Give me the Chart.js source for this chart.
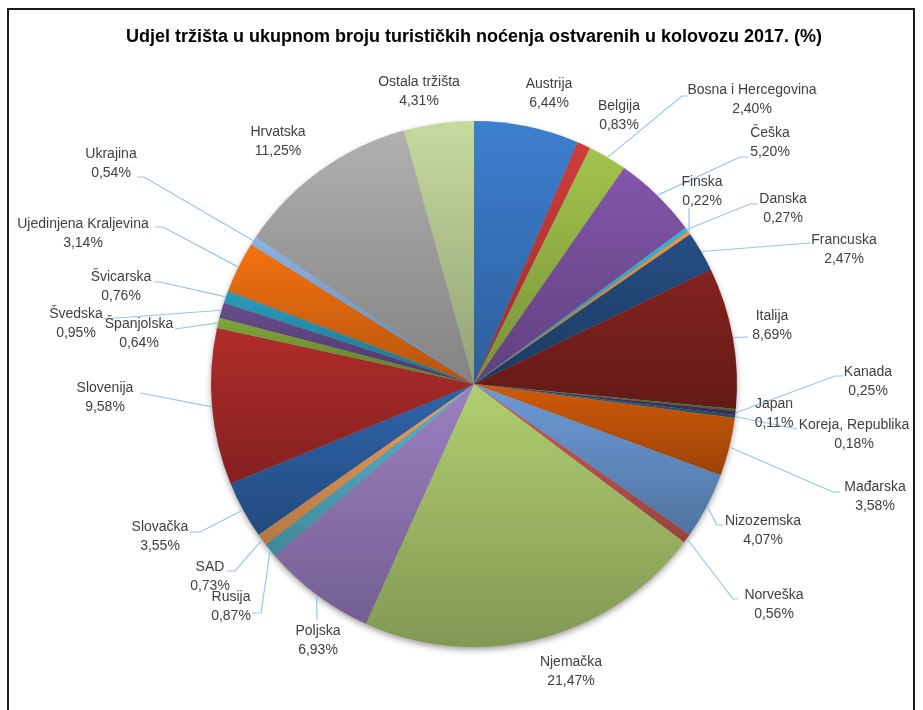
<!DOCTYPE html>
<html>
<head>
<meta charset="utf-8">
<script src="https://cdn.jsdelivr.net/npm/chart.js@4.4.0/dist/chart.umd.min.js"></script>
<style>
  html, body { margin: 0; padding: 0; background: #fff; }
  canvas { display: block; }
</style>
</head>
<body>
<canvas id="pie" width="923" height="710"></canvas>
<script>
const TITLE = "Udjel tržišta u ukupnom broju turističkih noćenja ostvarenih u kolovozu 2017. (%)";

const markets = [
  "Austrija", "Belgija", "Bosna i Hercegovina", "Češka", "Danska", "Finska",
  "Francuska", "Italija", "Japan", "Kanada", "Koreja, Republika", "Mađarska",
  "Nizozemska", "Norveška", "Njemačka", "Poljska", "Rusija", "SAD",
  "Slovačka", "Slovenija", "Španjolska", "Švedska", "Švicarska",
  "Ujedinjena Kraljevina", "Ukrajina", "Hrvatska", "Ostala tržišta"
];

const shares = [
  6.44, 0.83, 2.40, 5.20, 0.27, 0.22,
  2.47, 8.69, 0.11, 0.25, 0.18, 3.58,
  4.07, 0.56, 21.47, 6.93, 0.87, 0.73,
  3.55, 9.58, 0.64, 0.95, 0.76,
  3.14, 0.54, 11.25, 4.31
];

const sliceColors = [
  "#3d7fcf", "#cf3d3a", "#a2c44c", "#8256aa", "#3cb4d5", "#f7923e",
  "#254e83", "#84231f", "#5f7f2f", "#4d3670", "#236a80", "#d05a08",
  "#6c9bd8", "#cc5a57", "#b0ce70", "#9c80c2", "#58b6ce", "#f3a05a",
  "#2f64aa", "#b02c2a", "#80a63a", "#684c8c", "#2a9bba",
  "#f47210", "#8db3e2", "#b0b0b0", "#c6da9e"
];

// label text centres (name line) and leader bend points, per market
const labelAt = [
  [549, 84], [619, 106], [752, 90], [770, 133], [783, 199], [702, 182],
  [844, 240], [772, 316], [774, 404], [868, 372], [854, 425], [875, 487],
  [763, 521], [774, 595], [571, 662], [318, 631], [231, 597], [210, 567],
  [160, 527], [105, 388], [139, 324], [76, 314], [121, 277],
  [83, 224], [111, 154], [278, 132], [419, 82]
];
const leaderTo = [
  [], [], [[682, 96], [688, 96]], [[740, 157], [748, 157]], [[750, 204], [758, 204]], [[689, 208]],
  [[810, 243]], [[748, 337]], [], [[835, 376], [843, 376]], [[797, 429]], [[833, 492], [840, 492]],
  [[717, 525], [723, 525]], [[733, 599], [738, 599]], [], [[317, 620]], [[261, 613], [252, 613]], [[235, 571], [227, 571]],
  [[200, 532], [190, 532]], [[140, 393]], [[175, 329]], [[103, 319]], [[160, 282], [154, 282]],
  [[163, 227], [155, 227]], [[144, 177], [137, 177]], [], []
];

function shade(hex, f) {
  const n = parseInt(hex.slice(1), 16);
  const r = Math.round(((n >> 16) & 255) * f);
  const g = Math.round(((n >> 8) & 255) * f);
  const b = Math.round((n & 255) * f);
  return `rgb(${r},${g},${b})`;
}

// each slice gets its own top-to-bottom gradient over its bounding box
function sliceFill(c) {
  const base = sliceColors[c.dataIndex];
  const area = c.chart.chartArea;
  if (!area) return base;
  const cx = (area.left + area.right) / 2;
  const cy = (area.top + area.bottom) / 2;
  const r = Math.min(area.right - area.left, area.bottom - area.top) / 2;
  const total = shares.reduce((a, b) => a + b, 0);
  let before = 0;
  for (let i = 0; i < c.dataIndex; i++) before += shares[i];
  const a0 = before / total * 2 * Math.PI;
  const a1 = (before + shares[c.dataIndex]) / total * 2 * Math.PI;
  const ys = [cy, cy - r * Math.cos(a0), cy - r * Math.cos(a1)];
  if (a0 <= 0.0001 || a1 >= 2 * Math.PI - 0.0001) ys.push(cy - r);
  if (a0 <= Math.PI && a1 >= Math.PI) ys.push(cy + r);
  const top = Math.min(...ys), bottom = Math.max(...ys);
  const g = c.chart.ctx.createLinearGradient(0, top, 0, bottom + 1);
  g.addColorStop(0, base);
  g.addColorStop(1, shade(base, 0.74));
  return g;
}

const pieShadow = {
  id: "pieShadow",
  beforeDatasetsDraw(chart) {
    const arc = chart.getDatasetMeta(0).data[0];
    if (!arc) return;
    const ctx = chart.ctx;
    ctx.save();
    ctx.shadowColor = "rgba(0,0,0,0.45)";
    ctx.shadowBlur = 7;
    ctx.shadowOffsetY = 3;
    ctx.fillStyle = "#999";
    ctx.beginPath();
    ctx.arc(arc.x, arc.y, arc.outerRadius - 1, 0, Math.PI * 2);
    ctx.fill();
    ctx.restore();
  }
};

const sliceLabels = {
  id: "sliceLabels",
  afterDatasetsDraw(chart) {
    const ctx = chart.ctx;
    const meta = chart.getDatasetMeta(0);
    ctx.save();
    meta.data.forEach((arc, i) => {
      const mid = (arc.startAngle + arc.endAngle) / 2;
      const px = arc.x + Math.cos(mid) * arc.outerRadius;
      const py = arc.y + Math.sin(mid) * arc.outerRadius;
      if (leaderTo[i].length) {
        ctx.strokeStyle = "#9dc3e6";
        ctx.lineWidth = 1.2;
        ctx.beginPath();
        ctx.moveTo(px, py);
        leaderTo[i].forEach(p => ctx.lineTo(p[0], p[1]));
        ctx.stroke();
      }
    });
    ctx.fillStyle = "#404040";
    ctx.font = "14px 'Liberation Sans', Arial, sans-serif";
    ctx.textAlign = "center";
    ctx.textBaseline = "middle";
    markets.forEach((m, i) => {
      const [x, y] = labelAt[i];
      ctx.fillText(m, x, y);
      ctx.fillText(shares[i].toFixed(2).replace(".", ",") + "%", x, y + 19);
    });
    ctx.restore();
  }
};

const frame = {
  id: "frame",
  afterDraw(chart) {
    const ctx = chart.ctx;
    ctx.save();
    ctx.strokeStyle = "#1a1a1a";
    ctx.lineWidth = 2;
    ctx.strokeRect(8, 9, 906, 720);
    ctx.restore();
  }
};

new Chart(document.getElementById("pie"), {
  type: "pie",
  data: {
    labels: markets,
    datasets: [{
      data: shares,
      backgroundColor: sliceFill,
      borderWidth: 0
    }]
  },
  options: {
    responsive: false,
    animation: false,
    layout: { padding: { left: 25, right: 0, top: 10, bottom: 63 } },
    plugins: {
      legend: { display: false },
      tooltip: { enabled: false },
      title: {
        display: true,
        text: TITLE,
        color: "#000",
        font: { family: "'Liberation Sans', Arial, sans-serif", size: 18, weight: "bold", lineHeight: 1.2 },
        padding: { top: 16, bottom: 73.4 }
      }
    }
  },
  plugins: [pieShadow, sliceLabels, frame]
});
</script>
</body>
</html>
